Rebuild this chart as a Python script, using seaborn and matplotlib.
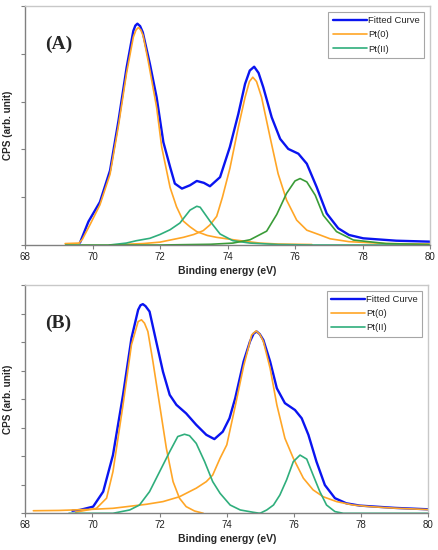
import matplotlib
matplotlib.use("Agg")
import matplotlib.pyplot as plt
import seaborn as sns

# ---------------- data ----------------
# Panel A
blue_A_x = [69.63, 69.88, 70.22, 70.52, 70.77, 71.01, 71.21, 71.27, 71.33, 71.41, 71.49, 71.7, 71.9, 72.1,
            72.3, 72.44, 72.65, 72.89, 73.09, 73.3, 73.48, 73.78, 74.07, 74.32, 74.52, 74.66, 74.79, 74.92,
            75.06, 75.31, 75.56, 75.8, 76.1, 76.35, 76.64, 76.94, 77.28, 77.6, 78.02, 79.0, 80.0]
blue_A_y = [50, 490, 900, 1560, 2600, 3710, 4480, 4590, 4630, 4580, 4450, 3790, 3090, 2150,
            1630, 1285, 1180, 1250, 1340, 1300, 1229, 1420, 2050, 2740, 3370, 3650, 3730, 3600,
            3300, 2670, 2220, 2010, 1910, 1700, 1215, 660, 350, 210, 140, 90, 70]

pt0a_A_x = [69.19, 69.6, 69.7, 69.93, 70.22, 70.52, 70.77, 71.01, 71.21, 71.29, 71.36, 71.43, 71.5, 71.65,
            71.9, 72.05, 72.3, 72.49, 72.69, 72.89, 73.09, 73.4, 73.68, 74.27, 74.96, 75.5, 76.5]
pt0a_A_y = [30, 40, 120, 430, 840, 1480, 2500, 3600, 4350, 4500, 4550, 4500, 4380, 3850,
            2880, 2050, 1200, 800, 500, 380, 280, 200, 160, 100, 40, 20, 10]

pt0b_A_x = [70.8, 71.5, 72.0, 72.69, 73.0, 73.28, 73.48, 73.68, 73.85, 74.07, 74.32, 74.52, 74.65, 74.75,
            74.86, 75.01, 75.26, 75.5, 75.75, 76.05, 76.35, 76.74, 77.04, 77.6, 78.7, 80.0]
pt0b_A_y = [10, 30, 60, 160, 220, 300, 420, 600, 1000, 1600, 2460, 3090, 3420, 3510,
            3420, 3090, 2260, 1490, 940, 520, 310, 210, 130, 70, 30, 20]

pt2a_A_x = [70.5, 71.0, 71.3, 71.7, 72.0, 72.3, 72.59, 72.89, 73.09, 73.19, 73.48, 73.78, 74.16, 74.67,
            75.5, 76.5, 80.0]
pt2a_A_y = [0, 40, 90, 140, 220, 320, 460, 730, 810, 790, 500, 230, 90, 40, 10, 0, 0]

pt2b_A_x = [69.2, 72.0, 73.5, 74.16, 74.67, 75.16, 75.46, 75.75, 76.0, 76.15, 76.35, 76.6, 76.84, 77.23,
            77.73, 78.7, 80.0]
pt2b_A_y = [0, 0, 15, 40, 110, 290, 640, 1080, 1340, 1390, 1320, 1040, 620, 280,
            104, 30, 10]

# Panel B
blue_B_x = [69.4, 69.62, 70.02, 70.32, 70.61, 70.91, 71.16, 71.36, 71.43, 71.5, 71.58, 71.7, 71.9, 72.1,
            72.3, 72.5, 72.79, 73.09, 73.39, 73.63, 73.88, 74.08, 74.25, 74.5, 74.69, 74.8, 74.89, 74.98,
            75.09, 75.29, 75.49, 75.73, 76.03, 76.23, 76.43, 76.67, 76.92, 77.22, 77.56, 77.96, 79.0, 80.0]
blue_B_y = [90, 117, 234, 760, 2040, 4150, 6130, 7130, 7290, 7330, 7260, 7070, 6010, 4960,
            4150, 3800, 3500, 3100, 2750, 2600, 2860, 3330, 4030, 5320, 6020, 6300, 6370, 6280,
            6070, 5320, 4380, 3860, 3620, 3330, 2750, 1810, 990, 530, 350, 270, 190, 140]

pt0a_B_x = [69.5, 70.12, 70.42, 70.61, 70.91, 71.16, 71.36, 71.46, 71.55, 71.65, 71.8, 72.0, 72.2, 72.4,
            72.59, 72.79, 73.04, 73.19, 73.3]
pt0a_B_y = [40, 175, 530, 1460, 3800, 5900, 6720, 6780, 6660, 6370, 5320, 3800, 2280, 1110,
            530, 234, 80, 35, 0]

pt0b_B_x = [68.24, 69.0, 70.0, 70.61, 71.6, 72.1, 72.59, 73.09, 73.39, 73.58, 73.8, 74.0, 74.25, 74.5,
            74.74, 74.87, 74.98, 75.09, 75.29, 75.49, 75.73, 75.98, 76.28, 76.57, 76.87, 77.27, 77.76,
            78.26, 79.0, 80.0]
pt0b_B_y = [90, 100, 140, 175, 315, 410, 580, 880, 1110, 1340, 1930, 2400, 3750, 5150,
            6250, 6390, 6280, 6020, 5080, 3800, 2630, 1930, 1230, 820, 580, 410, 290,
            234, 180, 130]

pt2a_B_x = [69.3, 70.61, 71.11, 71.4, 71.7, 72.0, 72.3, 72.54, 72.74, 72.89, 73.09, 73.34, 73.58, 73.8,
            74.1, 74.4, 74.79, 74.99]
pt2a_B_y = [0, 0, 117, 290, 760, 1460, 2160, 2690, 2770, 2720, 2450, 1810, 1110, 700,
            290, 117, 35, 0]

pt2b_B_x = [74.99, 75.19, 75.39, 75.58, 75.78, 75.98, 76.18, 76.38, 76.57, 76.77, 76.97, 77.22, 77.47, 80.0]
pt2b_B_y = [0, 117, 290, 640, 1170, 1810, 2040, 1900, 1340, 760, 290, 60, 0, 0]

x_ticks = [68, 70, 72, 74, 76, 78, 80]
legend_labels = ["Fitted Curve", "Pt(0)", "Pt(II)"]
panel_labels = ["(A)", "(B)"]
x_label = "Binding energy (eV)"
y_label = "CPS (arb. unit)"

# ---------------- styling ----------------
sns.set_style("white")
plt.rcParams["font.family"] = ["Liberation Sans", "DejaVu Sans"]

BLUE = "#0a14f0"
ORANGE = "#ffa626"
TEAL = "#2fae7c"
GREEN = "#3a9c38"

fig = plt.figure(figsize=(4.38, 5.5), dpi=100)
axA = fig.add_axes([25 / 438, 1 - 245 / 550, 405 / 438, 239 / 550])
axB = fig.add_axes([25.3 / 438, 1 - 513.3 / 550, 403 / 438, 228.3 / 550])


def draw(ax, series, ymax, panel, label_y):
    for (xs, ys, col, lw, lab) in series:
        sns.lineplot(x=xs, y=ys, color=col, linewidth=lw, ax=ax, label=lab,
                     estimator=None, sort=False)
    ax.set_xlim(68, 80)
    ax.set_ylim(0, ymax)
    ax.set_xticks(x_ticks)
    ax.set_xticklabels([str(t) for t in x_ticks], fontsize=7, color="#222222")
    ax.set_yticks(list(range(0, ymax + 1, 1000)))
    ax.set_yticklabels([])
    ax.tick_params(axis="both", direction="out", length=3, width=0.8, color="#808080",
                   left=True, bottom=True, pad=2)
    ax.set_xlabel(x_label, fontsize=7.5, fontweight="bold", labelpad=3)
    ax.set_ylabel(y_label, fontsize=7.2, fontweight="bold")
    ax.yaxis.set_label_coords(-12 / ax.get_position().width / fig.dpi / fig.get_figwidth(), 0.5)
    for s in ["left", "bottom"]:
        ax.spines[s].set_color("#808080")
        ax.spines[s].set_linewidth(1.0)
    for s in ["top", "right"]:
        ax.spines[s].set_color("#c8c8c8")
        ax.spines[s].set_linewidth(1.0)
    ax.text(0.05, label_y, panel, transform=ax.transAxes, fontsize=14, fontweight="bold",
            family=["Liberation Serif", "DejaVu Serif"], va="center", ha="left")
    handles, labels = ax.get_legend_handles_labels()
    leg = ax.legend(handles, labels, loc="upper right", bbox_to_anchor=(0.985, 0.975),
                    fontsize=6.8, frameon=True, fancybox=False, edgecolor="#909090",
                    handlelength=3.6, handletextpad=0.15, borderpad=0.45, labelspacing=0.55,
                    borderaxespad=0)
    leg.get_frame().set_linewidth(0.8)


draw(axA, [
    (blue_A_x, blue_A_y, BLUE, 1.7, legend_labels[0]),
    (pt0a_A_x, pt0a_A_y, ORANGE, 1.2, legend_labels[1]),
    (pt0b_A_x, pt0b_A_y, ORANGE, 1.2, None),
    (pt2a_A_x, pt2a_A_y, TEAL, 1.2, legend_labels[2]),
    (pt2b_A_x, pt2b_A_y, GREEN, 1.2, None),
], 5000, panel_labels[0], 0.84)

draw(axB, [
    (blue_B_x, blue_B_y, BLUE, 1.7, legend_labels[0]),
    (pt0a_B_x, pt0a_B_y, ORANGE, 1.2, legend_labels[1]),
    (pt0b_B_x, pt0b_B_y, ORANGE, 1.2, None),
    (pt2a_B_x, pt2a_B_y, TEAL, 1.2, legend_labels[2]),
    (pt2b_B_x, pt2b_B_y, TEAL, 1.2, None),
], 8000, panel_labels[1], 0.83)

fig.savefig("out.png", dpi=100)
